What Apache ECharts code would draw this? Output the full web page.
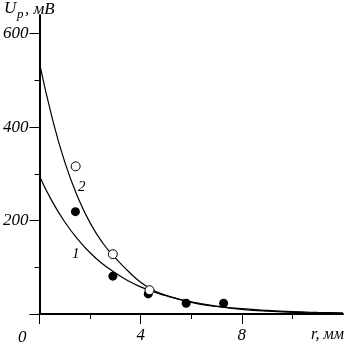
<!DOCTYPE html>
<html>
<head>
<meta charset="utf-8">
<script src="https://cdn.jsdelivr.net/npm/echarts@6/dist/echarts.min.js"></script>
<style>
html, body { margin: 0; padding: 0; background: #fff; }
#main { width: 350px; height: 344px; }
</style>
</head>
<body>
<div id="main"></div>
<script>
// r, мм  -> U_p, мВ (curves)
var rCurve = [0, 0.5, 1, 1.5, 2, 2.5, 3, 3.5, 4, 4.5, 5, 6, 7, 8, 9, 10, 11, 12];
var curve1 = [295, 241, 197, 161, 131, 107, 88, 71, 58, 48, 39, 26, 17, 11.5, 7.7, 5, 3.4, 2.3];
var curve2 = [537, 420, 325, 252, 195, 152, 120, 92, 68, 51, 40, 25, 16, 10, 6, 3.5, 2, 1];

// measured points
var filledR = [1.42, 2.9, 4.3, 5.8, 7.28];
var filledU = [219, 81, 43, 23, 23];
var openR = [1.43, 2.9, 4.35];
var openU = [316, 128, 51];

var xMajor = [0, 4, 8];
var xMinor = [2, 6, 10];
var yMajor = [0, 200, 400, 600];
var yMinor = [100, 300, 500];
var xLabels = [4, 8];
var yLabels = [200, 400, 600];

function pairs(xs, ys) {
	var out = [];
	for (var i = 0; i < xs.length; i++) out.push([xs[i], ys[i]]);
	return out;
}

var fontFam = '"Liberation Serif", "DejaVu Serif", serif';
var lblStyle = { color: '#000', fontFamily: fontFam, fontStyle: 'italic', fontSize: 17 };

var chart = echarts.init(document.getElementById('main'), null, { renderer: 'canvas' });
var option = {
	animation: false,
	backgroundColor: '#fff',
	grid: { left: 38, right: 7, top: 15, bottom: 26, containLabel: false },
	xAxis: [{
		type: 'value', min: 0, max: 12, position: 'bottom',
		axisLine: { lineStyle: { color: '#000', width: 2 } },
		axisTick: { customValues: xMajor, length: 10, lineStyle: { color: '#000', width: 1 } },
		axisLabel: Object.assign({ customValues: xLabels, margin: 13 }, lblStyle),
		splitLine: { show: false }
	}, {
		type: 'value', min: 0, max: 12, position: 'bottom', offset: 0,
		axisLine: { show: false },
		axisTick: { customValues: xMinor, length: 5, lineStyle: { color: '#000', width: 1 } },
		axisLabel: { show: false },
		splitLine: { show: false }
	}],
	yAxis: [{
		type: 'value', min: 0, max: 640, position: 'left',
		axisLine: { show: true, lineStyle: { color: '#000', width: 2 } },
		axisTick: { show: true, customValues: yMajor, length: 10, lineStyle: { color: '#000', width: 1 } },
		axisLabel: Object.assign({ customValues: yLabels, margin: 11 }, lblStyle),
		splitLine: { show: false }
	}, {
		type: 'value', min: 0, max: 640, position: 'left', offset: 0,
		axisLine: { show: false },
		axisTick: { show: true, customValues: yMinor, length: 5, lineStyle: { color: '#000', width: 1 } },
		axisLabel: { show: false },
		splitLine: { show: false }
	}],
	series: [{
		type: 'line', data: pairs(rCurve, curve1), smooth: true, showSymbol: false,
		lineStyle: { color: '#000', width: 1.2 }, z: 2
	}, {
		type: 'line', data: pairs(rCurve, curve2), smooth: true, showSymbol: false,
		lineStyle: { color: '#000', width: 1.2 }, z: 2
	}, {
		type: 'scatter', data: pairs(filledR, filledU), symbolSize: 9,
		itemStyle: { color: '#000', opacity: 1 }, z: 3
	}, {
		type: 'scatter', data: pairs(openR, openU), symbolSize: 9,
		itemStyle: { color: '#fff', borderColor: '#000', borderWidth: 1, opacity: 1 }, z: 4
	}],
	graphic: [
		{ type: 'text', left: 4, top: 0, style: { text: 'U', fill: '#000', font: 'italic 17px ' + fontFam } },
		{ type: 'text', left: 17, top: 8, style: { text: 'p', fill: '#000', font: 'italic 13px ' + fontFam } },
		{ type: 'text', left: 25, top: 1, style: { text: ', мВ', fill: '#000', font: 'italic 17px ' + fontFam } },
		{ type: 'text', left: 311, top: 327, style: { text: 'r, мм', fill: '#000', font: 'italic 16px ' + fontFam } },
		{ type: 'text', left: 18, top: 329, style: { text: '0', fill: '#000', font: 'italic 17px ' + fontFam } },
		{ type: 'text', left: 78, top: 180, style: { text: '2', fill: '#000', font: 'italic 15px ' + fontFam } },
		{ type: 'text', left: 72, top: 247, style: { text: '1', fill: '#000', font: 'italic 15px ' + fontFam } }
	]
};
chart.setOption(option);
</script>
</body>
</html>
